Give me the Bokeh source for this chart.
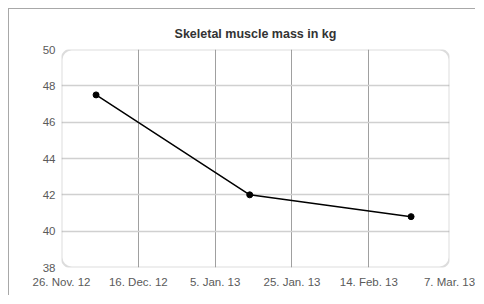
from datetime import datetime
from bokeh.plotting import figure
from bokeh.models import FixedTicker, BoxAnnotation, Range1d, InlineStyleSheet
from bokeh.embed import file_html
from bokeh.resources import INLINE

# ---- data ----
dates = ["2012-12-05", "2013-01-14", "2013-02-25"]
mass_kg = [47.5, 42.0, 40.8]
x_tick_dates = ["2012-11-26", "2012-12-16", "2013-01-05", "2013-01-25", "2013-02-14", "2013-03-07"]
x_tick_labels = ["26. Nov. 12", "16. Dec. 12", "5. Jan. 13", "25. Jan. 13", "14. Feb. 13", "7. Mar. 13"]
y_ticks = [38, 40, 42, 44, 46, 48, 50]
title_text = "Skeletal muscle mass in kg"


def ms(s):
    return datetime.strptime(s, "%Y-%m-%d").timestamp() * 1000.0


xs = [ms(d) for d in dates]
xt = [ms(d) for d in x_tick_dates]

p = figure(width=475, height=295, output_backend="svg", toolbar_location=None,
           x_range=Range1d(xt[0], xt[-1]), y_range=Range1d(y_ticks[0], y_ticks[-1]),
           min_border_left=61, min_border_right=26, min_border_top=49, min_border_bottom=28,
           title=title_text)
p.stylesheets = [InlineStyleSheet(css=(
    ":host::before { content: ''; position: absolute; left: 8px; top: 8px; "
    "width: 1px; height: calc(100% - 8px); background: #a8a8a8; border: none; "
    "outline: none; box-shadow: none; pointer-events: none; z-index: 10; }"
    ":host::after { content: ''; position: absolute; left: 8px; top: 8px; "
    "height: 1px; width: calc(100% - 8px); background: #a8a8a8; border: none; "
    "outline: none; box-shadow: none; pointer-events: none; z-index: 10; }"))]

p.title.align = "center"
p.title.text_font = "Liberation Sans"
p.title.text_font_size = "12.5px"
p.title.text_font_style = "bold"
p.title.text_color = "#333333"
p.title.offset = 0
p.title.standoff = 17

p.outline_line_color = None
p.background_fill_color = "white"
p.border_fill_color = "white"

# axes
p.xaxis.ticker = FixedTicker(ticks=xt)
p.xaxis.major_label_overrides = {t: l for t, l in zip(xt, x_tick_labels)}
p.yaxis.ticker = FixedTicker(ticks=y_ticks)
for ax in (p.xaxis[0], p.yaxis[0]):
    ax.axis_line_color = None
    ax.major_tick_line_color = None
    ax.minor_tick_line_color = None
    ax.major_label_text_font = "Liberation Sans"
    ax.major_label_text_font_size = "11.5px"
    ax.major_label_text_color = "#5a5a5a"
p.xaxis.major_label_standoff = 2
p.yaxis.major_label_standoff = 0

# grids
p.xgrid.grid_line_color = "#a0a0a0"
p.xgrid.grid_line_width = 1
p.ygrid.grid_line_color = "#d0d0d0"
p.ygrid.grid_line_width = 1.5

# rounded frame
p.add_layout(BoxAnnotation(fill_color=None, line_color="#8a8a8a", line_width=2,
                           border_radius=10, level="underlay"))

p.line(xs, mass_kg, line_color="black", line_width=1.5)
p.scatter(xs, mass_kg, size=6, fill_color="black", line_color="black")

open("out.html", "w").write(file_html(p, INLINE))
